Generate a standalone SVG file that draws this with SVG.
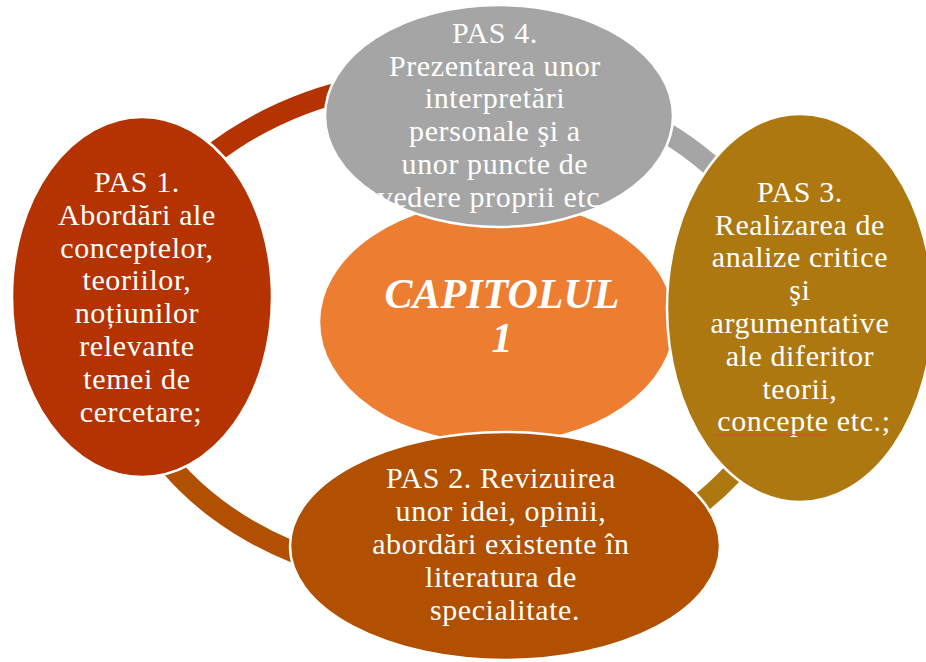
<svg xmlns="http://www.w3.org/2000/svg" width="926" height="662" viewBox="0 0 926 662">
<style>
.shape{stroke:#ffffff;stroke-width:2.5}
.ring{fill:none;stroke-width:21}
.t{font-family:"Liberation Serif","Times New Roman",serif;font-size:30px;fill:#ffffff;text-anchor:middle;letter-spacing:0.6px}
.c{font-family:"Liberation Serif","Times New Roman",serif;font-size:42px;font-weight:bold;font-style:italic;fill:#ffffff;text-anchor:middle}
</style>
<defs>
<clipPath id="clip4"><ellipse cx="499" cy="116" rx="174" ry="111"/></clipPath>
</defs>
<rect width="926" height="662" fill="#ffffff"/>
<g id="connectors">
<path class="ring" stroke="#B43300" d="M118,330 A337,253 0 0 1 499,79.2"/>
<path class="ring" stroke="#A5A5A5" d="M499,79.2 A337,253 0 0 1 792,330"/>
<path class="ring" stroke="#AE7811" d="M792,330 A337,253 0 0 1 455,583"/>
<path class="ring" stroke="#B05000" d="M455,583 A337,253 0 0 1 118,330"/>
</g>
<g id="center">
<ellipse class="shape" cx="497" cy="322" rx="178" ry="122" fill="#ED7D31"/>
<text class="c" x="502" y="308">CAPITOLUL</text>
<text class="c" x="502" y="352">1</text>
</g>
<g id="pas1">
<ellipse class="shape" cx="142" cy="297" rx="130" ry="180" fill="#B43300"/>
<text class="t">
<tspan x="141" y="192">PAS 1.</tspan>
<tspan x="141" y="224.8">Abordări ale</tspan>
<tspan x="141" y="257.6">conceptelor,</tspan>
<tspan x="141" y="290.4">teoriilor,</tspan>
<tspan x="141" y="323.2">noțiunilor</tspan>
<tspan x="141" y="356">relevante</tspan>
<tspan x="141" y="388.8">temei de</tspan>
<tspan x="141" y="421.6">cercetare;</tspan>
</text>
</g>
<g id="pas4">
<ellipse class="shape" cx="499" cy="116" rx="174" ry="111" fill="#A5A5A5"/>
<text class="t" clip-path="url(#clip4)">
<tspan x="499" y="42.7">PAS 4.</tspan>
<tspan x="499" y="75.5">Prezentarea unor</tspan>
<tspan x="499" y="108.3">interpretări</tspan>
<tspan x="499" y="141.1">personale şi a</tspan>
<tspan x="499" y="173.9">unor puncte de</tspan>
<tspan x="489" y="206.7">vedere proprii etc</tspan>
</text>
</g>
<g id="pas3">
<ellipse class="shape" cx="800" cy="308" rx="133" ry="194" fill="#AE7811"/>
<text class="t">
<tspan x="804" y="201.7">PAS 3.</tspan>
<tspan x="804" y="234.5">Realizarea de</tspan>
<tspan x="804" y="267.3">analize critice</tspan>
<tspan x="804" y="300.1">şi</tspan>
<tspan x="804" y="332.9">argumentative</tspan>
<tspan x="804" y="365.7">ale diferitor</tspan>
<tspan x="804" y="398.5">teorii,</tspan>
<tspan x="804" y="431.3">concepte etc.;</tspan>
</text>
<path d="M715,435.5 l2,-1.2 l2,1.2 l2,-1.2 l2,1.2 l2,-1.2 l2,1.2 l2,-1.2 l2,1.2 l2,-1.2 l2,1.2 l2,-1.2 l2,1.2 l2,-1.2 l2,1.2 l2,-1.2 l2,1.2 l2,-1.2 l2,1.2 l2,-1.2 l2,1.2 l2,-1.2 l2,1.2 l2,-1.2 l2,1.2 l2,-1.2 l2,1.2 l2,-1.2 l2,1.2 l2,-1.2 l2,1.2 l2,-1.2 l2,1.2 l2,-1.2 l2,1.2 l2,-1.2 l2,1.2 l2,-1.2 l2,1.2 l2,-1.2 l2,1.2 l2,-1.2 l2,1.2 l2,-1.2 l2,1.2 l2,-1.2 l2,1.2 l2,-1.2 l2,1.2 l2,-1.2 l2,1.2 l2,-1.2 l2,1.2 l2,-1.2 l2,1.2 l2,-1.2 l2,1.2" fill="none" stroke="#E0483A" stroke-width="1"/>
</g>
<g id="pas2">
<ellipse class="shape" cx="505" cy="546" rx="215" ry="114" fill="#B05000"/>
<text class="t">
<tspan x="505" y="488.3">PAS 2. Revizuirea</tspan>
<tspan x="505" y="521.1">unor idei, opinii,</tspan>
<tspan x="505" y="553.9">abordări existente în</tspan>
<tspan x="505" y="586.7">literatura de</tspan>
<tspan x="505" y="619.5">specialitate.</tspan>
</text>
</g>
</svg>
